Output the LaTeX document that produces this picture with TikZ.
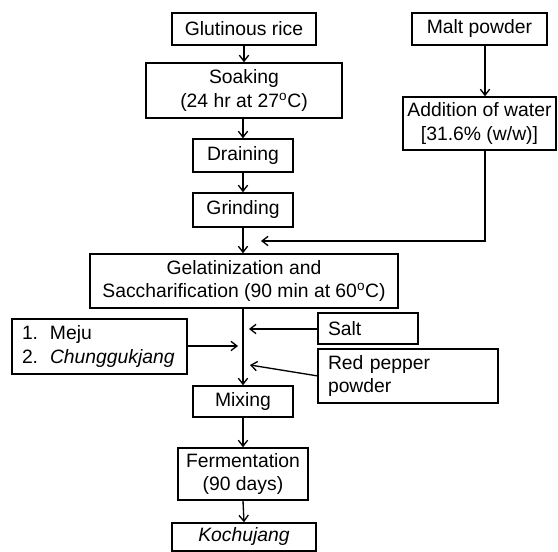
\documentclass[tikz,border=0pt]{standalone}
\usepackage{fontspec}
\setmainfont{Liberation Sans}
\usetikzlibrary{arrows.meta}
\begin{document}
\begin{tikzpicture}[x=0.75pt,y=-0.75pt,
  box/.style={draw, line width=1.1pt, inner sep=0pt, align=center,
    font=\fontsize{14.5}{17.5}\selectfont},
  flow/.style={line width=1pt, -{Straight Barb[length=4.5pt,width=7pt,line width=1pt]}}]
\path[fill=white, use as bounding box] (0,0) rectangle (558,552);

\node[box, minimum width=108pt, minimum height=24pt] (glut) at (244,29) {Glutinous rice};
\node[box, minimum width=101.25pt, minimum height=24pt] (malt) at (479.5,29) {Malt powder};
\node[box, minimum width=147pt, minimum height=41.25pt] (soak) at (244,90.5) {Soaking\\(24 hr at 27\textsuperscript{o}C)};
\node[box, minimum width=114.75pt, minimum height=39.75pt] (add) at (479.5,123.5) {Addition of water\\{}[31.6\% (w/w)]};
\node[box, minimum width=75pt, minimum height=24.75pt] (drain) at (243,155.5) {Draining};
\node[box, minimum width=75pt, minimum height=25.5pt] (grind) at (243,210) {Grinding};
\node[box, minimum width=231pt, minimum height=40.5pt] (gel) at (244,281) {Gelatinization and\\Saccharification (90 min at 60\textsuperscript{o}C)};
\node[box, minimum width=131.25pt, minimum height=41.25pt, text width=116.25pt, align=left] (meju) at (99.5,346.5)
  {\makebox[21pt][l]{1.}Meju\\\makebox[21pt][l]{2.}\textit{Chunggukjang}};
\node[box, minimum width=75pt, minimum height=23.25pt, text width=60pt, align=left] (salt) at (368,328.5) {Salt};
\node[box, minimum width=135pt, minimum height=40.5pt, text width=120pt, align=left] (red) at (408,376) {Red pepper\\powder};
\node[box, minimum width=75pt, minimum height=23.25pt] (mix) at (243,401.5) {Mixing};
\node[box, minimum width=97.5pt, minimum height=39pt] (ferm) at (243,474) {Fermentation\\(90 days)};
\node[box, minimum width=108pt, minimum height=21pt] (koch) at (244,537) {\textit{Kochujang}};

\coordinate (mx) at (485,0);
\coordinate (merge) at (261,241);
\coordinate (mejuend) at (238,346);
\coordinate (saltend) at (249,329);
\coordinate (redend) at (250,365);
\coordinate (redstart) at (318,376);

\draw[flow] (glut.south) -- (soak.north);
\draw[flow] (soak.south -| drain) -- (drain.north);
\draw[flow] (drain.south) -- (grind.north);
\draw[flow] (grind.south) -- (gel.north -| grind);
\draw[flow] (malt.south -| mx) -- (add.north -| mx);
\draw[flow] (add.south -| mx) |- (merge);
\draw[flow] (gel.south -| mix) -- (mix.north);
\draw[flow] (meju.east |- mejuend) -- (mejuend);
\draw[flow] (salt.west |- saltend) -- (saltend);
\draw[flow] (redstart) -- (redend);
\draw[flow] (mix.south) -- (ferm.north);
\draw[flow] (ferm.south) -- (koch.north);
\end{tikzpicture}
\end{document}
